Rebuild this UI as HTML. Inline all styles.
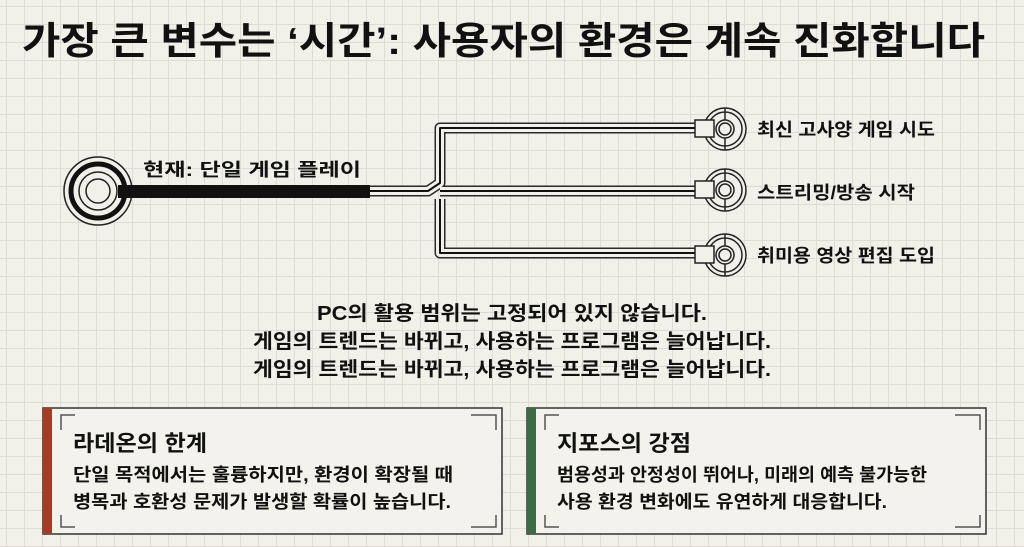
<!DOCTYPE html>
<html><head><meta charset="utf-8"><style>
html,body{margin:0;padding:0;}
body{width:1024px;height:547px;overflow:hidden;background:#f1f0e9;
background-image:linear-gradient(#dedcd4 1px,transparent 1px),linear-gradient(90deg,#dedcd4 1px,transparent 1px);
background-size:18px 18px;background-position:6px 6px;}
svg{position:absolute;left:0;top:0;}
text{font-family:"Liberation Sans","Noto Sans CJK KR",sans-serif;font-weight:700;fill:#111;}
</style></head><body>
<svg width="1024" height="547" viewBox="0 0 1024 547">
<text x="22" y="54" font-size="38" textLength="963" lengthAdjust="spacingAndGlyphs">가장 큰 변수는 ‘시간’: 사용자의 환경은 계속 진화합니다</text>

<!-- left node -->
<circle cx="98" cy="191" r="34" fill="#f1f0e9" stroke="#222" stroke-width="1.5"/>
<circle cx="98" cy="191" r="27" fill="none" stroke="#111" stroke-width="5"/>
<circle cx="98" cy="191" r="19" fill="none" stroke="#222" stroke-width="1.5"/>
<circle cx="98" cy="191" r="12" fill="none" stroke="#222" stroke-width="1.5"/>
<rect x="118" y="185" width="252" height="13" fill="#111"/>
<text x="143" y="176" font-size="18" textLength="218" lengthAdjust="spacingAndGlyphs">현재: 단일 게임 플레이</text>

<!-- pipes -->
<g fill="none" stroke-linejoin="round">
<path d="M370 191 H428 L440 183 V128 H700 M440 199 V253 H700 M440 191 H700" stroke="#2a2a2a" stroke-width="11"/>
<path d="M370 191 H428 L440 183 V128 H700 M440 199 V253 H700 M440 191 H700" stroke="#f1f0e9" stroke-width="8"/>
<path d="M370 191 H428 L440 183 V128 H700 M440 199 V253 H700 M440 191 H700" stroke="#111" stroke-width="2"/>
</g>
<g stroke="#222" stroke-width="1.5" fill="#f1f0e9">
<g transform="translate(0,0)">
<circle cx="725" cy="129" r="21"/><circle cx="725" cy="129" r="17" fill="none"/>
<line x1="725" y1="108" x2="725" y2="150"/><circle cx="725" cy="129" r="9"/><circle cx="725" cy="129" r="6"/>
<rect x="695" y="120" width="19" height="17"/>
</g>
<g transform="translate(0,61)">
<circle cx="725" cy="129" r="21"/><circle cx="725" cy="129" r="17" fill="none"/>
<line x1="725" y1="108" x2="725" y2="150"/><circle cx="725" cy="129" r="9"/><circle cx="725" cy="129" r="6"/>
<rect x="695" y="120" width="19" height="17"/>
</g>
<g transform="translate(0,126)">
<circle cx="725" cy="129" r="21"/><circle cx="725" cy="129" r="17" fill="none"/>
<line x1="725" y1="108" x2="725" y2="150"/><circle cx="725" cy="129" r="9"/><circle cx="725" cy="129" r="6"/>
<rect x="695" y="120" width="19" height="17"/>
</g>
</g>
<text x="757" y="136" font-size="18" textLength="178" lengthAdjust="spacingAndGlyphs">최신 고사양 게임 시도</text>
<text x="757" y="199" font-size="18" textLength="158" lengthAdjust="spacingAndGlyphs">스트리밍/방송 시작</text>
<text x="757" y="262" font-size="18" textLength="178" lengthAdjust="spacingAndGlyphs">취미용 영상 편집 도입</text>

<!-- center text -->
<text x="512" y="320" font-size="20" text-anchor="middle" textLength="390" lengthAdjust="spacingAndGlyphs">PC의 활용 범위는 고정되어 있지 않습니다.</text>
<text x="512" y="348" font-size="20" text-anchor="middle" textLength="518" lengthAdjust="spacingAndGlyphs">게임의 트렌드는 바뀌고, 사용하는 프로그램은 늘어납니다.</text>
<text x="512" y="376" font-size="20" text-anchor="middle" textLength="518" lengthAdjust="spacingAndGlyphs">게임의 트렌드는 바뀌고, 사용하는 프로그램은 늘어납니다.</text>

<!-- boxes -->
<rect x="43" y="408" width="459" height="126" fill="#f3f2ec" stroke="#333" stroke-width="1.5"/>
<rect x="43" y="408" width="9" height="126" fill="#a63b26"/>
<rect x="527" y="408" width="459" height="126" fill="#f3f2ec" stroke="#333" stroke-width="1.5"/>
<rect x="527" y="408" width="9" height="126" fill="#3d6b43"/>
<g fill="none" stroke="#555" stroke-width="1.5">
<path d="M61 430 V415 H75 M471 415 H496 V430 M61 515 V527 H75 M471 527 H496 V515"/>
<path d="M545 430 V415 H559 M955 415 H980 V430 M545 515 V527 H559 M955 527 H980 V515"/>
</g>
<text x="73" y="451" font-size="22" textLength="134" lengthAdjust="spacingAndGlyphs">라데온의 한계</text>
<text x="73" y="481" font-size="18" textLength="380" lengthAdjust="spacingAndGlyphs">단일 목적에서는 훌륭하지만, 환경이 확장될 때</text>
<text x="73" y="508" font-size="18" textLength="378" lengthAdjust="spacingAndGlyphs">병목과 호환성 문제가 발생할 확률이 높습니다.</text>
<text x="557" y="451" font-size="22" textLength="134" lengthAdjust="spacingAndGlyphs">지포스의 강점</text>
<text x="557" y="481" font-size="18" textLength="370" lengthAdjust="spacingAndGlyphs">범용성과 안정성이 뛰어나, 미래의 예측 불가능한</text>
<text x="557" y="508" font-size="18" textLength="330" lengthAdjust="spacingAndGlyphs">사용 환경 변화에도 유연하게 대응합니다.</text>
</svg>
</body></html>
